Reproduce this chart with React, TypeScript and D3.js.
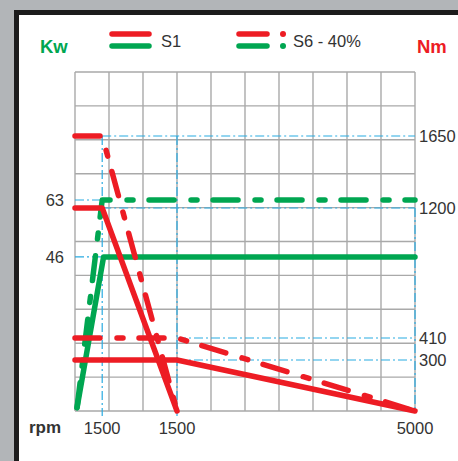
import * as d3 from "d3";

// rpm positions and values
const powerS1: [number, number][] = [[30, 1], [420, 46], [5000, 46]];
const powerS6: [number, number][] = [[30, 1], [400, 63], [5000, 63]];
const torqueS1a: [number, number][] = [[0, 1200], [400, 1200], [1500, 0]];
const torqueS1b: [number, number][] = [[0, 300], [1500, 300], [5000, 0]];
const torqueS6a: [number, number][] = [[0, 1650], [400, 1650], [1500, 0]];
const torqueS6b: [number, number][] = [[0, 410], [1500, 410], [5000, 0]];

const kwTicks = [63, 46];
const nmTicks = [1650, 1200, 410, 300];
const rpmTicks = [
  { value: 400, label: "1500" },
  { value: 1500, label: "1500" },
  { value: 5000, label: "5000" },
];
const legendItems = [
  { label: "S1", dashed: false },
  { label: "S6 - 40%", dashed: true },
];

const W = 458;
const H = 461;
const RED = "#ed1c24";
const GREEN = "#00a651";
const BLUE = "#29abe2";
const GRID = "#a9a9a9";
const TEXT = "#333333";
const FONT = "'Liberation Sans', Arial, sans-serif";
const DASH = "25 17 6 16";

const x = d3.scaleLinear().domain([0, 5000]).range([75, 415]);
const yKw = d3.scaleLinear().domain([0, 63]).range([411, 200]);
const yNm = d3
  .scaleLinear()
  .domain([0, 300, 410, 1200, 1650])
  .range([411, 360, 338, 208, 136]);

const kwLine = d3.line<[number, number]>().x((d) => x(d[0])).y((d) => yKw(d[1]));
const nmLine = d3.line<[number, number]>().x((d) => x(d[0])).y((d) => yNm(d[1]));

export default function App() {
  const gridX = d3.range(0, 5001, 500);
  const gridY = d3.range(0, 11).map((i) => 72 + (i * (411 - 72)) / 10);

  // reference (blue dash-dot) lines
  const refs = [
    { x1: x(400), x2: x(5000), y1: yNm(1650), y2: yNm(1650) },
    { x1: x(400), x2: x(5000), y1: yNm(1200), y2: yNm(1200) },
    { x1: x(0), x2: x(400), y1: yKw(63), y2: yKw(63) },
    { x1: x(0), x2: x(400), y1: yKw(46), y2: yKw(46) },
    { x1: x(400), x2: x(400), y1: yNm(1650), y2: 416 },
    { x1: x(1500), x2: x(1500), y1: yNm(1650), y2: 416 },
    { x1: x(1500), x2: x(5000), y1: yNm(410), y2: yNm(410) },
    { x1: x(1500), x2: x(5000), y1: yNm(300), y2: yNm(300) },
    { x1: x(5000), x2: x(5000), y1: yNm(1200), y2: yNm(0) },
  ];

  const curve = { fill: "none", strokeWidth: 5.5, strokeLinecap: "round" as const, strokeLinejoin: "round" as const };

  return (
    <svg width={W} height={H} style={{ position: "absolute", left: 0, top: 0, fontFamily: FONT }}>
      <rect width={W} height={H} fill="#b2b5b8" />
      <rect x={14} y={10} width={W - 14} height={H - 10} fill="#1c1c1c" />
      <rect x={19} y={15} width={W - 19} height={H - 15} fill="#ffffff" />

      {/* grid */}
      {gridX.map((v) => (
        <line key={"gx" + v} x1={x(v)} x2={x(v)} y1={72} y2={411} stroke={GRID} strokeWidth={1.4} />
      ))}
      {gridY.map((v, i) => (
        <line key={"gy" + i} x1={75} x2={415} y1={v} y2={v} stroke={GRID} strokeWidth={1.4} />
      ))}

      {/* reference lines */}
      {refs.map((r, i) => (
        <line key={"r" + i} {...r} stroke={BLUE} strokeWidth={1.2} strokeDasharray="9 3 2 3" />
      ))}

      {/* power */}
      <path d={kwLine(powerS6)!} stroke={GREEN} strokeDasharray={DASH} {...curve} />
      <path d={kwLine(powerS1)!} stroke={GREEN} {...curve} />

      {/* torque */}
      <path d={nmLine(torqueS6a)!} stroke={RED} strokeDasharray={DASH} {...curve} />
      <path d={nmLine(torqueS6b)!} stroke={RED} strokeDasharray={DASH} {...curve} />
      <path d={nmLine(torqueS1a)!} stroke={RED} {...curve} />
      <path d={nmLine(torqueS1b)!} stroke={RED} {...curve} />

      {/* axis labels */}
      <text x={40} y={53} fill={GREEN} fontWeight="bold" fontSize={18.5}>Kw</text>
      <text x={417} y={53} fill={RED} fontWeight="bold" fontSize={18.5}>Nm</text>
      <text x={29} y={433} fill={TEXT} fontWeight="bold" fontSize={17}>rpm</text>

      {kwTicks.map((t) => (
        <text key={"k" + t} x={64} y={yKw(t)} dy="0.36em" textAnchor="end" fill={TEXT} fontSize={16.5}>{t}</text>
      ))}
      {nmTicks.map((t) => (
        <text key={"n" + t} x={419} y={yNm(t)} dy="0.36em" fill={TEXT} fontSize={16.5}>{t}</text>
      ))}
      {rpmTicks.map((t, i) => (
        <text key={"x" + i} x={x(t.value)} y={434} textAnchor="middle" fill={TEXT} fontSize={16.5}>{t.label}</text>
      ))}

      {/* legend */}
      {legendItems.map((item, i) => {
        const lx = i === 0 ? 112 : 239;
        const len = i === 0 ? 37 : 28;
        return (
          <g key={item.label}>
            {[RED, GREEN].map((c, j) => (
              <g key={c}>
                <line x1={lx} x2={lx + len} y1={34 + j * 12} y2={34 + j * 12} stroke={c} strokeWidth={5.5} strokeLinecap="round" />
                {item.dashed && (
                  <line x1={283} x2={283} y1={34 + j * 12} y2={34 + j * 12} stroke={c} strokeWidth={6} strokeLinecap="round" />
                )}
              </g>
            ))}
            <text x={i === 0 ? 161 : 293} y={46.5} fill={TEXT} fontSize={16.5}>{item.label}</text>
          </g>
        );
      })}
    </svg>
  );
}
